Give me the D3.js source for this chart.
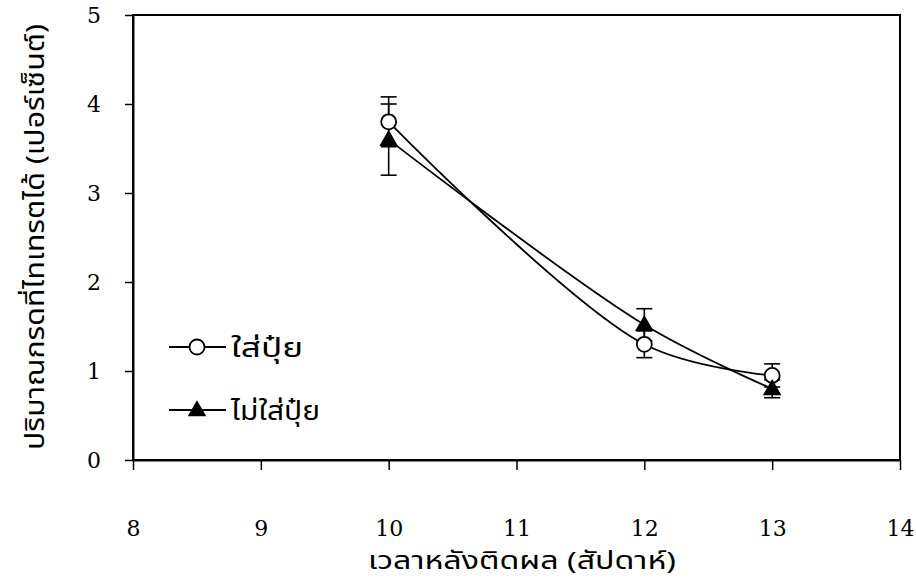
<!DOCTYPE html>
<html>
<head>
<meta charset="utf-8">
<script src="https://cdn.jsdelivr.net/npm/d3@7"></script>
<style>
  body { margin: 0; background: #fff; }
  svg { display: block; }
  .num text { font-family: 'DejaVu Serif', 'Liberation Serif', serif; font-size: 22px; fill: #000; }
</style>
</head>
<body>
<svg id="chart" width="916" height="582"></svg>
<script>
// Weeks after fruit set
const weeks = [10, 12, 13];
// Titratable acidity (%) – fertilised
const fertMean = [3.8, 1.3, 0.95];
const fertErr  = [0.28, 0.15, 0.13];
// Titratable acidity (%) – not fertilised
const noFertMean = [3.6, 1.52, 0.8];
const noFertErr  = [0.4, 0.18, 0.1];
const seriesNames = ["ใส่ปุ๋ย", "ไม่ใส่ปุ๋ย"];
const xTicks = [8, 9, 10, 11, 12, 13, 14];
const yTicks = [0, 1, 2, 3, 4, 5];
const xTitle = "เวลาหลังติดผล (สัปดาห์)";
const yTitle = "ปริมาณกรดที่ไทเทรตได้ (เปอร์เซ็นต์)";

const svg = d3.select("#chart");
const thaiFont = "'Noto Sans Thai', 'Noto Sans', 'DejaVu Sans', sans-serif";

const x = d3.scaleLinear().domain([8, 14]).range([133, 900]);
const y = d3.scaleLinear().domain([0, 5]).range([460, 15]);

// Frame
svg.append("rect")
  .attr("x", x(8)).attr("y", y(5))
  .attr("width", x(14) - x(8)).attr("height", y(0) - y(5))
  .attr("fill", "none").attr("stroke", "#000").attr("stroke-width", 2);

// Bottom axis: ticks outward, labels set well below the axis
const gx = svg.append("g").attr("class", "num")
  .attr("transform", `translate(0,${y(0)})`)
  .call(d3.axisBottom(x).tickValues(xTicks).tickFormat(d3.format("d"))
    .tickSizeInner(10).tickSizeOuter(0).tickPadding(50));
gx.select(".domain").attr("stroke-width", 2);
gx.selectAll(".tick line").attr("stroke-width", 1.5);

// Left axis
const gy = svg.append("g").attr("class", "num")
  .attr("transform", `translate(${x(8)},0)`)
  .call(d3.axisLeft(y).tickValues(yTicks).tickFormat(d3.format("d"))
    .tickSizeInner(8).tickSizeOuter(0).tickPadding(24));
gy.select(".domain").attr("stroke-width", 2);
gy.selectAll(".tick line").attr("stroke-width", 1.5);

// Axis titles
svg.append("text")
  .attr("x", 522).attr("y", 569)
  .attr("text-anchor", "middle")
  .attr("font-family", thaiFont).attr("font-size", 24)
  .attr("textLength", 308).attr("lengthAdjust", "spacingAndGlyphs")
  .text(xTitle);

svg.append("text")
  .attr("transform", `translate(44,237) rotate(-90)`)
  .attr("text-anchor", "middle")
  .attr("font-family", thaiFont).attr("font-size", 26)
  .attr("textLength", 426).attr("lengthAdjust", "spacingAndGlyphs")
  .text(yTitle);

const series = [
  { name: seriesNames[0], mean: fertMean, err: fertErr, shape: "circle", width: 72 },
  { name: seriesNames[1], mean: noFertMean, err: noFertErr, shape: "triangle", width: 89 }
];

const line = d3.line()
  .x(d => x(d.w)).y(d => y(d.v))
  .curve(d3.curveCatmullRom.alpha(0.5));

const triSym = d3.symbol().type(d3.symbolTriangle).size(150);

function drawMarker(g, shape, cx, cy) {
  if (shape === "circle") {
    g.append("circle").attr("cx", cx).attr("cy", cy).attr("r", 7.5)
      .attr("fill", "#fff").attr("stroke", "#000").attr("stroke-width", 1.8);
  } else {
    g.append("path").attr("d", triSym())
      .attr("transform", `translate(${cx},${cy + 1})`)
      .attr("fill", "#000");
  }
}

// Lines
series.forEach(s => {
  const pts = weeks.map((w, i) => ({ w, v: s.mean[i] }));
  svg.append("path").datum(pts)
    .attr("d", line)
    .attr("fill", "none").attr("stroke", "#000").attr("stroke-width", 1.8);
});

// Error bars
series.forEach(s => {
  weeks.forEach((w, i) => {
    const cx = x(w), lo = y(s.mean[i] - s.err[i]), hi = y(s.mean[i] + s.err[i]);
    const g = svg.append("g").attr("stroke", "#000").attr("stroke-width", 1.6);
    g.append("line").attr("x1", cx).attr("x2", cx).attr("y1", lo).attr("y2", hi);
    g.append("line").attr("x1", cx - 8).attr("x2", cx + 8).attr("y1", lo).attr("y2", lo);
    g.append("line").attr("x1", cx - 8).attr("x2", cx + 8).attr("y1", hi).attr("y2", hi);
  });
});

// Markers
series.forEach(s => {
  weeks.forEach((w, i) => drawMarker(svg, s.shape, x(w), y(s.mean[i])));
});

// Legend
const legendRows = [347, 410];
series.forEach((s, i) => {
  const ly = legendRows[i];
  const g = svg.append("g");
  g.append("line").attr("x1", 169).attr("x2", 226).attr("y1", ly).attr("y2", ly)
    .attr("stroke", "#000").attr("stroke-width", 1.8);
  drawMarker(g, s.shape, 197, ly);
  g.append("text").attr("x", 231).attr("y", ly + 10)
    .attr("font-family", thaiFont).attr("font-size", 26)
    .attr("textLength", s.width).attr("lengthAdjust", "spacingAndGlyphs")
    .text(s.name);
});
</script>
</body>
</html>
